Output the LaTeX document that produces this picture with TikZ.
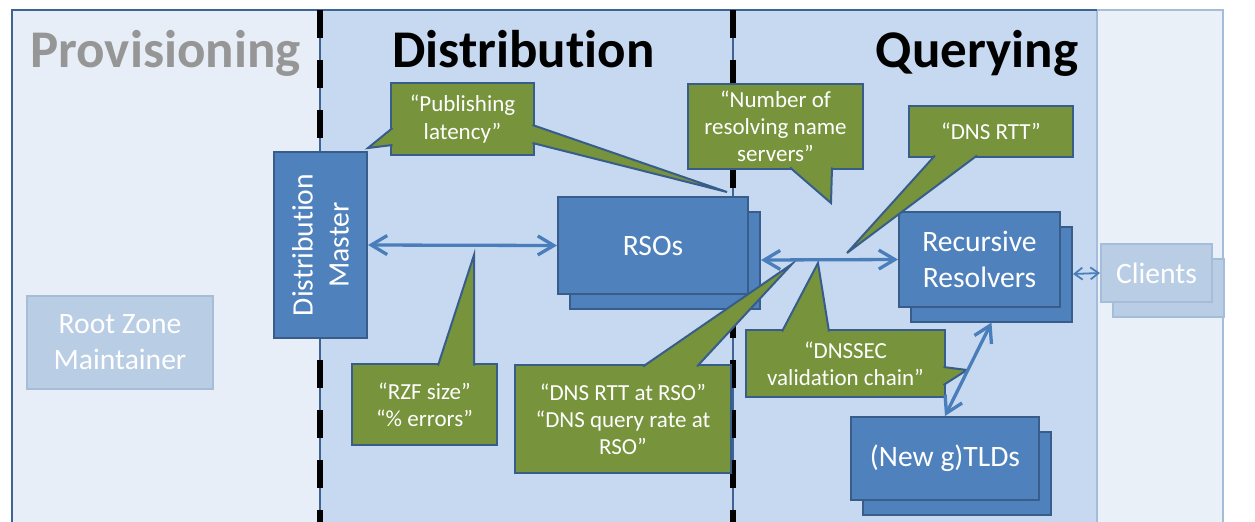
\documentclass[tikz,border=0pt]{standalone}
\usepackage{fontspec}
\setmainfont{Carlito}[Ligatures=NoCommon]
\usepackage{tikz}
\usetikzlibrary{positioning, arrows.meta}
\definecolor{provbg}{HTML}{E8EEF7}
\definecolor{distbg}{HTML}{C6D9F1}
\definecolor{clientbg}{HTML}{EAF0F8}
\definecolor{frameblue}{HTML}{3C6595}
\definecolor{boxblue}{HTML}{4F81BD}
\definecolor{boxedge}{HTML}{385D8A}
\definecolor{paleblue}{HTML}{B9CDE5}
\definecolor{paleedge}{HTML}{A6BDDA}
\definecolor{callgreen}{HTML}{77933C}
\definecolor{linkblue}{HTML}{4A7EBB}
\definecolor{titlegrey}{HTML}{969696}
\tikzset{
x=0.5pt, y=-0.5pt, % one unit is one pixel of the slide, y runs downwards
bluebox/.style={draw=boxedge, fill=boxblue, line width=1pt, text=white, inner sep=0pt, align=center, font=\fontsize{14.8}{18}\selectfont}, % the (stacked) blue boxes
palebox/.style={draw=paleedge, fill=paleblue, line width=1pt, text=white, inner sep=0pt, align=center, font=\fontsize{14.8}{18}\selectfont}, % parties outside the measured part
callout/.style={draw=boxedge, fill=callgreen, line width=1pt, text=white, inner sep=0pt, align=center, font=\fontsize{11.5}{13.6}\selectfont}, % green metric balloons
wedge/.style={draw=boxedge, fill=callgreen, line width=1pt, line join=miter}, % tails of the balloons
link/.style={draw=linkblue, line width=1.65pt, {Straight Barb[length=8pt,width=9.5pt]}-{Straight Barb[length=8pt,width=9.5pt]}}, % double headed connectors
smalllink/.style={draw=linkblue, line width=0.9pt, {Straight Barb[length=4pt,width=6pt]}-{Straight Barb[length=4pt,width=6pt]}}, % the one to the clients
phase/.style={font=\fontsize{26.5}{30}\selectfont\bfseries, anchor=base, inner sep=0pt}, % column titles
border/.style={draw=black, line width=2.8pt, dash pattern=on 14pt off 11pt}, % dashed borders between the phases
}

\begin{document}
\begin{tikzpicture}
\useasboundingbox (0,0) rectangle (1255,521);
\clip (0,0) rectangle (1255,521);
\fill[white] (0,0) rectangle (1255,521);
\fill[provbg] (12,10) rectangle (320,530);
\fill[distbg] (320,10) rectangle (1097,530);
\filldraw[fill=clientbg, draw=paleedge, line width=0.75pt] (1097,10) rectangle (1223,530);
\draw[frameblue, line width=0.75pt] (12,530) -- (12,10) -- (1097,10);

\node[phase, text=titlegrey] (prov) at (165.5,67) {Provisioning};
\node[phase] (dist) at (523.5,67) {Distribution};
\node[phase] (query) at (977,67) {Querying};

\draw[frameblue, line width=0.75pt] (320,10) -- (320,530);
\draw[border] (320,10) -- (320,530);
\draw[frameblue, line width=0.75pt] (733,10) -- (733,530);
\draw[border] (733,10) -- (733,530);

\node[palebox, minimum width=93pt, minimum height=46.5pt] (rzm) at (120,342.5) {Root Zone\\Maintainer};
\node[bluebox, rotate=90, minimum width=93pt, minimum height=46.5pt] (dm) at (320.5,245) {Distribution\\Master};
\node[bluebox, minimum width=95pt, minimum height=48.5pt] (rsob) at (665,260) {};
\node[bluebox, minimum width=95pt, minimum height=48.5pt] (rso) at (653,245.5) {RSOs};
\node[bluebox, minimum width=80.5pt, minimum height=47.5pt] (rrb) at (991.5,274) {};
\node[bluebox, minimum width=80.5pt, minimum height=47.5pt] (rr) at (979.5,259.5) {Recursive\\Resolvers};
\node[bluebox, minimum width=94pt, minimum height=41.5pt] (tldb) at (957,473) {};
\node[bluebox, minimum width=94pt, minimum height=41.5pt] (tld) at (945,458.5) {(New g)TLDs};
\node[palebox, minimum width=55.5pt, minimum height=29pt] (clb) at (1168.5,287.5) {};
\node[palebox, minimum width=55.5pt, minimum height=29pt] (cl) at (1156.5,273) {Clients};

\node[callout, minimum width=71.5pt, minimum height=36pt] (pub) at (462.5,119) {“Publishing\\latency”};
\path[wedge] (392.5,128) -- (368,148) -- (392.5,145);
\path[wedge] (532.5,125) -- (727,192) -- (532.5,143);
\node[callout, minimum width=87.5pt, minimum height=42.5pt] (num) at (775.5,126.5) {“Number of\\resolving name\\servers”};
\path[wedge] (790,167.5) -- (831,203) -- (832,167.5);
\node[callout, minimum width=82pt, minimum height=25.5pt] (rtt) at (991,131.5) {“DNS RTT”};
\path[wedge] (935,155.5) -- (847,253) -- (977,155.5);
\node[callout, minimum width=72.5pt, minimum height=40.5pt] (rzf) at (424.5,404.5) {“RZF size”\\“\% errors”};
\path[wedge] (438,365.5) -- (474,255) -- (474,365.5);
\node[callout, minimum width=108pt, minimum height=54pt] (rsoq) at (623,419) {“DNS RTT at RSO”\\“DNS query rate at\\RSO”};
\path[wedge] (643,366.5) -- (792,264) -- (697,366.5);
\node[callout, minimum width=99.5pt, minimum height=33.5pt] (sec) at (845.5,363.5) {“DNSSEC\\validation chain”};
\path[wedge] (782,331.5) -- (818,263) -- (829,331.5);
\path[wedge] (943.5,367) -- (967,370) -- (943.5,385);

\draw[link] (dm.south) -- (rso.west);
\draw[link] (rsob.east) -- (rr.west);
\draw[link] (rrb.south) -- (tld.north);
\draw[smalllink] (rrb.east) -- (cl.west);
\end{tikzpicture}
\end{document}
